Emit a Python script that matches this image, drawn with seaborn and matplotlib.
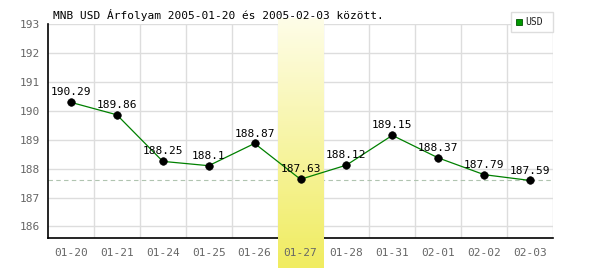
import numpy as np
import pandas as pd
import matplotlib
matplotlib.use("Agg")
import matplotlib.pyplot as plt
import matplotlib.transforms as mtransforms
from matplotlib.patches import Rectangle
from matplotlib.colors import LinearSegmentedColormap
import seaborn as sns

dates = ["01-20", "01-21", "01-24", "01-25", "01-26", "01-27",
         "01-28", "01-31", "02-01", "02-02", "02-03"]
usd = [190.29, 189.86, 188.25, 188.1, 188.87, 187.63,
       188.12, 189.15, 188.37, 187.79, 187.59]
value_labels = ["190.29", "189.86", "188.25", "188.1", "188.87", "187.63",
                "188.12", "189.15", "188.37", "187.79", "187.59"]
highlight = "01-27"
yticks = [186, 187, 188, 189, 190, 191, 192, 193]
title = "MNB USD Árfolyam 2005-01-20 és 2005-02-03 között."
series_name = "USD"

sns.set_theme(style="white")
plt.rcParams["font.family"] = ["DejaVu Sans Mono", "DejaVu Sans"]

df = pd.DataFrame({"date": dates, "usd": usd})
df["pos"] = np.arange(len(dates))

fig = plt.figure(figsize=(6, 2.7), dpi=100)
ax = fig.add_axes([48/600, 1-238/270, (553-48)/600, (238-24)/270])

ax.set_ylim(185.6, 193)
ax.set_xlim(-0.5, len(dates)-0.5)
ax.set_yticks(yticks)
ax.set_xticks(df["pos"])
ax.set_xticklabels(dates)
for b in np.arange(0.5, len(dates), 1.0):
    ax.axvline(b, color="#dddddd", lw=1, zorder=0)
for t in yticks:
    ax.axhline(t, color="#dddddd", lw=1, zorder=0)

# min line
ax.axhline(min(usd), color="#b0c4b0", lw=0.8, ls=(0, (4, 3)), zorder=0.3)

# highlight gradient
hi = dates.index(highlight)
trans = mtransforms.blended_transform_factory(ax.transData, fig.transFigure)
grad = np.linspace(0, 1, 256).reshape(-1, 1)
cmap = LinearSegmentedColormap.from_list("hl", ["#f0ec60", "#fefde8"])
ax.imshow(grad, cmap=cmap, aspect="auto", origin="lower",
          extent=[hi-0.5, hi+0.5, 1-268/270, 1-18/270],
          transform=trans, clip_on=False, zorder=0.5, interpolation="bilinear")

sns.lineplot(data=df, x="pos", y="usd", color="#008000", lw=0.9, ax=ax,
             zorder=3, legend=False)
sns.scatterplot(data=df, x="pos", y="usd", color="black", s=30,
                edgecolor="black", ax=ax, zorder=4, legend=False)

for x, y, s in zip(df["pos"], usd, value_labels):
    ax.text(x, y + 0.17, s, ha="center", va="bottom", fontsize=8,
            color="black", zorder=5)

ax.set_xlabel("")
ax.set_ylabel("")
for side in ["top", "right"]:
    ax.spines[side].set_visible(False)
ax.spines["left"].set_color("black")
ax.spines["bottom"].set_color("black")
ax.spines["left"].set_linewidth(1.2)
ax.spines["bottom"].set_linewidth(1.2)
ax.spines["bottom"].set_zorder(0.4)
ax.tick_params(axis="both", length=0, labelsize=8, labelcolor="#666666", pad=6)
ax.tick_params(axis="x", pad=7)

fig.text(53/600, 1-15/270, title, fontsize=8, color="black", va="center", ha="left")

# legend
lg = Rectangle((511/600, 1-32/270), 42/600, 20/270, transform=fig.transFigure,
               facecolor="white", edgecolor="#dddddd", lw=1, zorder=10)
fig.add_artist(lg)
sq = Rectangle((516/600, 1-25/270), 6/600, 6/270, transform=fig.transFigure,
               facecolor="#009900", edgecolor="#005500", lw=0.6, zorder=11)
fig.add_artist(sq)
fig.text(525/600, 1-22/270, series_name, fontsize=7, color="#222222",
         va="center", ha="left", zorder=12)

fig.savefig("out.png", dpi=100)
